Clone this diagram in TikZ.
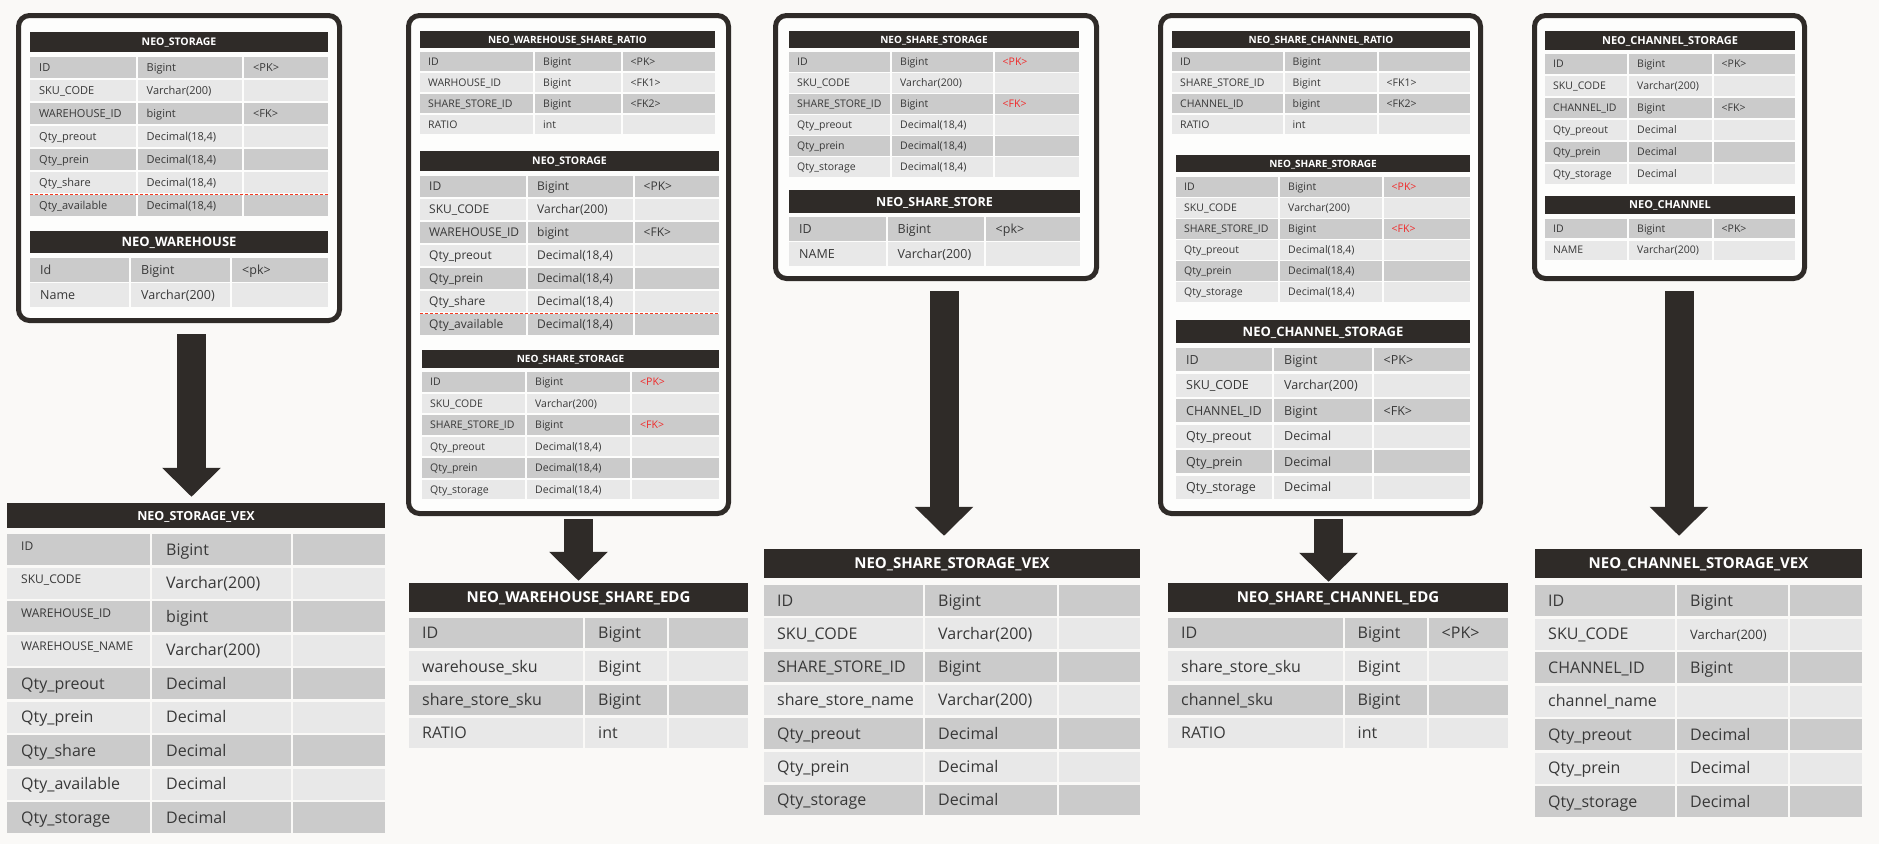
\documentclass[tikz,border=0pt]{standalone}
\usepackage{fontspec}
\setmainfont{Open Sans}
\usetikzlibrary{arrows.meta,fit}

\definecolor{ink}{HTML}{2F2B28}
\definecolor{rowdark}{HTML}{CBCBCB}
\definecolor{rowlight}{HTML}{E8E8E8}
\definecolor{txt}{HTML}{383838}
\definecolor{paper}{HTML}{FAF9F7}
\definecolor{pkred}{HTML}{F02A2A}

\newcommand\fsz[1]{\fontsize{#1}{#1}\selectfont}
\newcommand\rd[1]{\textcolor{pkred}{#1}}
\newcommand\smlab[1]{\raisebox{5pt}{\fsz{12}#1}}
\newcommand\dfour{Decimal(18,4)}

% cols xa..xd, first row top, pitch, row height, font size, text pad
\newcommand\tgeo[9]{\def\xa{#1}\def\xb{#2}\def\xc{#3}\def\xd{#4}%
  \def\ytop{#5}\def\rp{#6}\def\rh{#7}\def\tfs{#8}\def\pad{#9}}
\newcommand\tblhead[7]{%
  \node[hdr, fit={(#2,#3) (#4,#5)}] (#1) {};
  \node[hdrtext, font=\fsz{#6}\bfseries] (#1-t) at (#1.center) {#7};}
\newcommand\trows[2]{%
  \foreach \f/\t/\k [count=\i from 0] in {#2} {
    \pgfmathsetmacro\ya{\ytop+\i*\rp}
    \pgfmathsetmacro\yb{\ya+\rh}
    \pgfmathsetmacro\yt{\ya+\rh/2+0.36*\tfs}
    \pgfmathtruncatemacro\odd{mod(\i,2)}
    \ifnum\odd=0 \def\rc{rowdark}\else\def\rc{rowlight}\fi
    \fill[\rc] (\xa,\ya) rectangle (\xb-1,\yb);
    \fill[\rc] (\xb+1,\ya) rectangle (\xc-1,\yb);
    \fill[\rc] (\xc+1,\ya) rectangle (\xd,\yb);
    \node[cell] (#1-\i-a) at (\xa+\pad,\yt) {\f};
    \node[cell] (#1-\i-b) at (\xb+1+\pad,\yt) {\t};
    \node[cell] (#1-\i-c) at (\xc+1+\pad,\yt) {\k};
  }}

\tikzset{
  cell/.style={anchor=base west, inner sep=0pt, text=txt, font=\fsz{\tfs}},
  hdr/.style={fill=ink, inner sep=0pt},
  hdrtext/.style={text=white, inner sep=0pt, text depth=0pt},
  tblframe/.style={draw=ink, line width=5pt, rounded corners=11pt, fill=white!60!paper, inner sep=0pt},
  bigarrow/.style={draw=ink, line width=29pt, -{Triangle[length=29pt,width=57pt]}},
  pagebreak/.style={draw=pkred!80!orange, dash pattern=on 3pt off 2pt, line width=0.7pt}
}

\begin{document}
\begin{tikzpicture}[x=1pt,y=-1pt]
  \useasboundingbox (0,0) rectangle (1879,844);
  \fill[paper] (0,0) rectangle (1879,844);

  % frames
  \node[tblframe, fit={(18.5,15.5) (339.5,320.5)}] (fr1) {};
  \node[tblframe, fit={(408.5,15.5) (728.5,513.5)}] (fr2) {};
  \node[tblframe, fit={(775.5,15.5) (1096.5,278.5)}] (fr3) {};
  \node[tblframe, fit={(1160.5,15.5) (1480.5,513.5)}] (fr4) {};
  \node[tblframe, fit={(1534.5,15.5) (1804.5,278.5)}] (fr5) {};

  % frame 1
  \tgeo{30}{136.5}{243}{328}{57}{23}{21}{11}{9}
  \tblhead{t1}{30}{32}{328}{52}{10.5}{NEO\_STORAGE}
  \trows{t1}{ID/Bigint/<PK>, SKU\_CODE/Varchar(200)/{}, WAREHOUSE\_ID/bigint/<FK>,
    Qty\_preout/\dfour/{}, Qty\_prein/\dfour/{}, Qty\_share/\dfour/{}, Qty\_available/\dfour/{}}
  \draw[pagebreak] (30,194) -- (328,194);
  \tgeo{30}{130}{231}{328}{258}{25}{24}{12.5}{10}
  \tblhead{t2}{30}{231}{328}{253}{13}{NEO\_WAREHOUSE}
  \trows{t2}{Id/Bigint/<pk>, Name/Varchar(200)/{}}

  % frame 2
  \tgeo{420}{534}{621.5}{715}{52}{21}{19}{10.5}{8}
  \tblhead{t3}{420}{31}{715}{48}{10}{NEO\_WAREHOUSE\_SHARE\_RATIO}
  \trows{t3}{ID/Bigint/<PK>, WARHOUSE\_ID/Bigint/<FK1>, SHARE\_STORE\_ID/Bigint/<FK2>, RATIO/int/{}}
  \tgeo{420}{527}{633.5}{719}{176}{23}{21}{12}{9}
  \tblhead{t4}{420}{151}{719}{171}{10.5}{NEO\_STORAGE}
  \trows{t4}{ID/Bigint/<PK>, SKU\_CODE/Varchar(200)/{}, WAREHOUSE\_ID/bigint/<FK>,
    Qty\_preout/\dfour/{}, Qty\_prein/\dfour/{}, Qty\_share/\dfour/{}, Qty\_available/\dfour/{}}
  \draw[pagebreak] (420,313) -- (719,313);
  \tgeo{422}{526}{631}{719}{372}{21.5}{19.5}{10.5}{8}
  \tblhead{t5}{422}{350}{719}{368}{10}{NEO\_SHARE\_STORAGE}
  \trows{t5}{ID/Bigint/\rd{<PK>}, SKU\_CODE/Varchar(200)/{}, SHARE\_STORE\_ID/Bigint/\rd{<FK>},
    Qty\_preout/\dfour/{}, Qty\_prein/\dfour/{}, Qty\_storage/\dfour/{}}

  % frame 3
  \tgeo{789}{891}{993.5}{1079}{52}{21}{19.5}{10.5}{8}
  \tblhead{t6}{789}{31}{1079}{48}{10}{NEO\_SHARE\_STORAGE}
  \trows{t6}{ID/Bigint/\rd{<PK>}, SKU\_CODE/Varchar(200)/{}, SHARE\_STORE\_ID/Bigint/\rd{<FK>},
    Qty\_preout/\dfour/{}, Qty\_prein/\dfour/{}, Qty\_storage/\dfour/{}}
  \tgeo{789}{886.5}{984.5}{1080}{217}{25}{24}{12.5}{10}
  \tblhead{t7}{789}{190}{1080}{213}{12.5}{NEO\_SHARE\_STORE}
  \trows{t7}{ID/Bigint/<pk>, NAME/Varchar(200)/{}}

  % frame 4
  \tgeo{1172}{1283.5}{1377.5}{1470}{52}{21}{19}{10.5}{8}
  \tblhead{t8}{1172}{31}{1470}{48}{10}{NEO\_SHARE\_CHANNEL\_RATIO}
  \trows{t8}{ID/Bigint/{}, SHARE\_STORE\_ID/Bigint/<FK1>, CHANNEL\_ID/bigint/<FK2>, RATIO/int/{}}
  \tgeo{1176}{1279}{1382.5}{1470}{177}{21}{19.5}{10.5}{8}
  \tblhead{t9}{1176}{155}{1470}{172}{10}{NEO\_SHARE\_STORAGE}
  \trows{t9}{ID/Bigint/\rd{<PK>}, SKU\_CODE/Varchar(200)/{}, SHARE\_STORE\_ID/Bigint/\rd{<FK>},
    Qty\_preout/\dfour/{}, Qty\_prein/\dfour/{}, Qty\_storage/\dfour/{}}
  \tgeo{1176}{1273}{1372.5}{1470}{348}{25.5}{23}{12.5}{10}
  \tblhead{t10}{1176}{320}{1470}{343}{13}{NEO\_CHANNEL\_STORAGE}
  \trows{t10}{ID/Bigint/<PK>, SKU\_CODE/Varchar(200)/{}, CHANNEL\_ID/Bigint/<FK>,
    Qty\_preout/Decimal/{}, Qty\_prein/Decimal/{}, Qty\_storage/Decimal/{}}

  % frame 5
  \tgeo{1545}{1628}{1712.5}{1795}{54}{22}{20}{10.5}{8}
  \tblhead{t11}{1545}{31}{1795}{50}{11}{NEO\_CHANNEL\_STORAGE}
  \trows{t11}{ID/Bigint/<PK>, SKU\_CODE/Varchar(200)/{}, CHANNEL\_ID/Bigint/<FK>,
    Qty\_preout/Decimal/{}, Qty\_prein/Decimal/{}, Qty\_storage/Decimal/{}}
  \tgeo{1545}{1628}{1712.5}{1795}{219}{21.5}{19}{10.5}{8}
  \tblhead{t12}{1545}{196}{1795}{214}{11}{NEO\_CHANNEL}
  \trows{t12}{ID/Bigint/<PK>, NAME/Varchar(200)/{}}

  % result tables
  \tgeo{7}{151}{292}{385}{534}{33.5}{31}{16}{14}
  \tblhead{t13}{7}{503}{385}{528}{12.5}{NEO\_STORAGE\_VEX}
  \trows{t13}{\smlab{ID}/Bigint/{}, \smlab{SKU\_CODE}/Varchar(200)/{}, \smlab{WAREHOUSE\_ID}/bigint/{},
    \smlab{WAREHOUSE\_NAME}/Varchar(200)/{}, Qty\_preout/Decimal/{}, Qty\_prein/Decimal/{},
    Qty\_share/Decimal/{}, Qty\_available/Decimal/{}, Qty\_storage/Decimal/{}}
  \tgeo{409}{584}{668}{748}{618}{33.3}{30}{16}{13}
  \tblhead{t14}{409}{583}{748}{612}{15}{NEO\_WAREHOUSE\_SHARE\_EDG}
  \trows{t14}{ID/Bigint/{}, warehouse\_sku/Bigint/{}, share\_store\_sku/Bigint/{}, RATIO/int/{}}
  \tgeo{764}{924}{1058}{1140}{585}{33.3}{30.5}{16}{13}
  \tblhead{t15}{764}{549}{1140}{578}{15}{NEO\_SHARE\_STORAGE\_VEX}
  \trows{t15}{ID/Bigint/{}, SKU\_CODE/Varchar(200)/{}, SHARE\_STORE\_ID/Bigint/{},
    share\_store\_name/Varchar(200)/{}, Qty\_preout/Decimal/{}, Qty\_prein/Decimal/{}, Qty\_storage/Decimal/{}}
  \tgeo{1168}{1343.5}{1427.5}{1508}{618}{33.3}{30}{16}{13}
  \tblhead{t16}{1168}{583}{1508}{612}{15}{NEO\_SHARE\_CHANNEL\_EDG}
  \trows{t16}{ID/Bigint/<PK>, share\_store\_sku/Bigint/{}, channel\_sku/Bigint/{}, RATIO/int/{}}
  \tgeo{1535}{1676}{1788.5}{1862}{585}{33.5}{31}{16}{13}
  \tblhead{t17}{1535}{549}{1862}{578}{15}{NEO\_CHANNEL\_STORAGE\_VEX}
  \trows{t17}{ID/Bigint/{}, SKU\_CODE/\fsz{13}Varchar(200)/{}, CHANNEL\_ID/Bigint/{},
    channel\_name/{}/{}, Qty\_preout/Decimal/{}, Qty\_prein/Decimal/{}, Qty\_storage/Decimal/{}}

  % arrows
  \coordinate (a1) at (191.5,334);
  \coordinate (a2) at (578.5,519);
  \coordinate (a3) at (944,291);
  \coordinate (a4) at (1328.5,519);
  \coordinate (a5) at (1679,291);
  \draw[bigarrow, shorten >=6pt] (a1) -- (a1 |- t13.north);
  \draw[bigarrow, shorten >=2pt] (a2) -- (a2 |- t14.north);
  \draw[bigarrow, shorten >=13pt] (a3) -- (a3 |- t15.north);
  \draw[bigarrow, shorten >=1pt] (a4) -- (a4 |- t16.north);
  \draw[bigarrow, shorten >=13pt] (a5) -- (a5 |- t17.north);
\end{tikzpicture}
\end{document}
